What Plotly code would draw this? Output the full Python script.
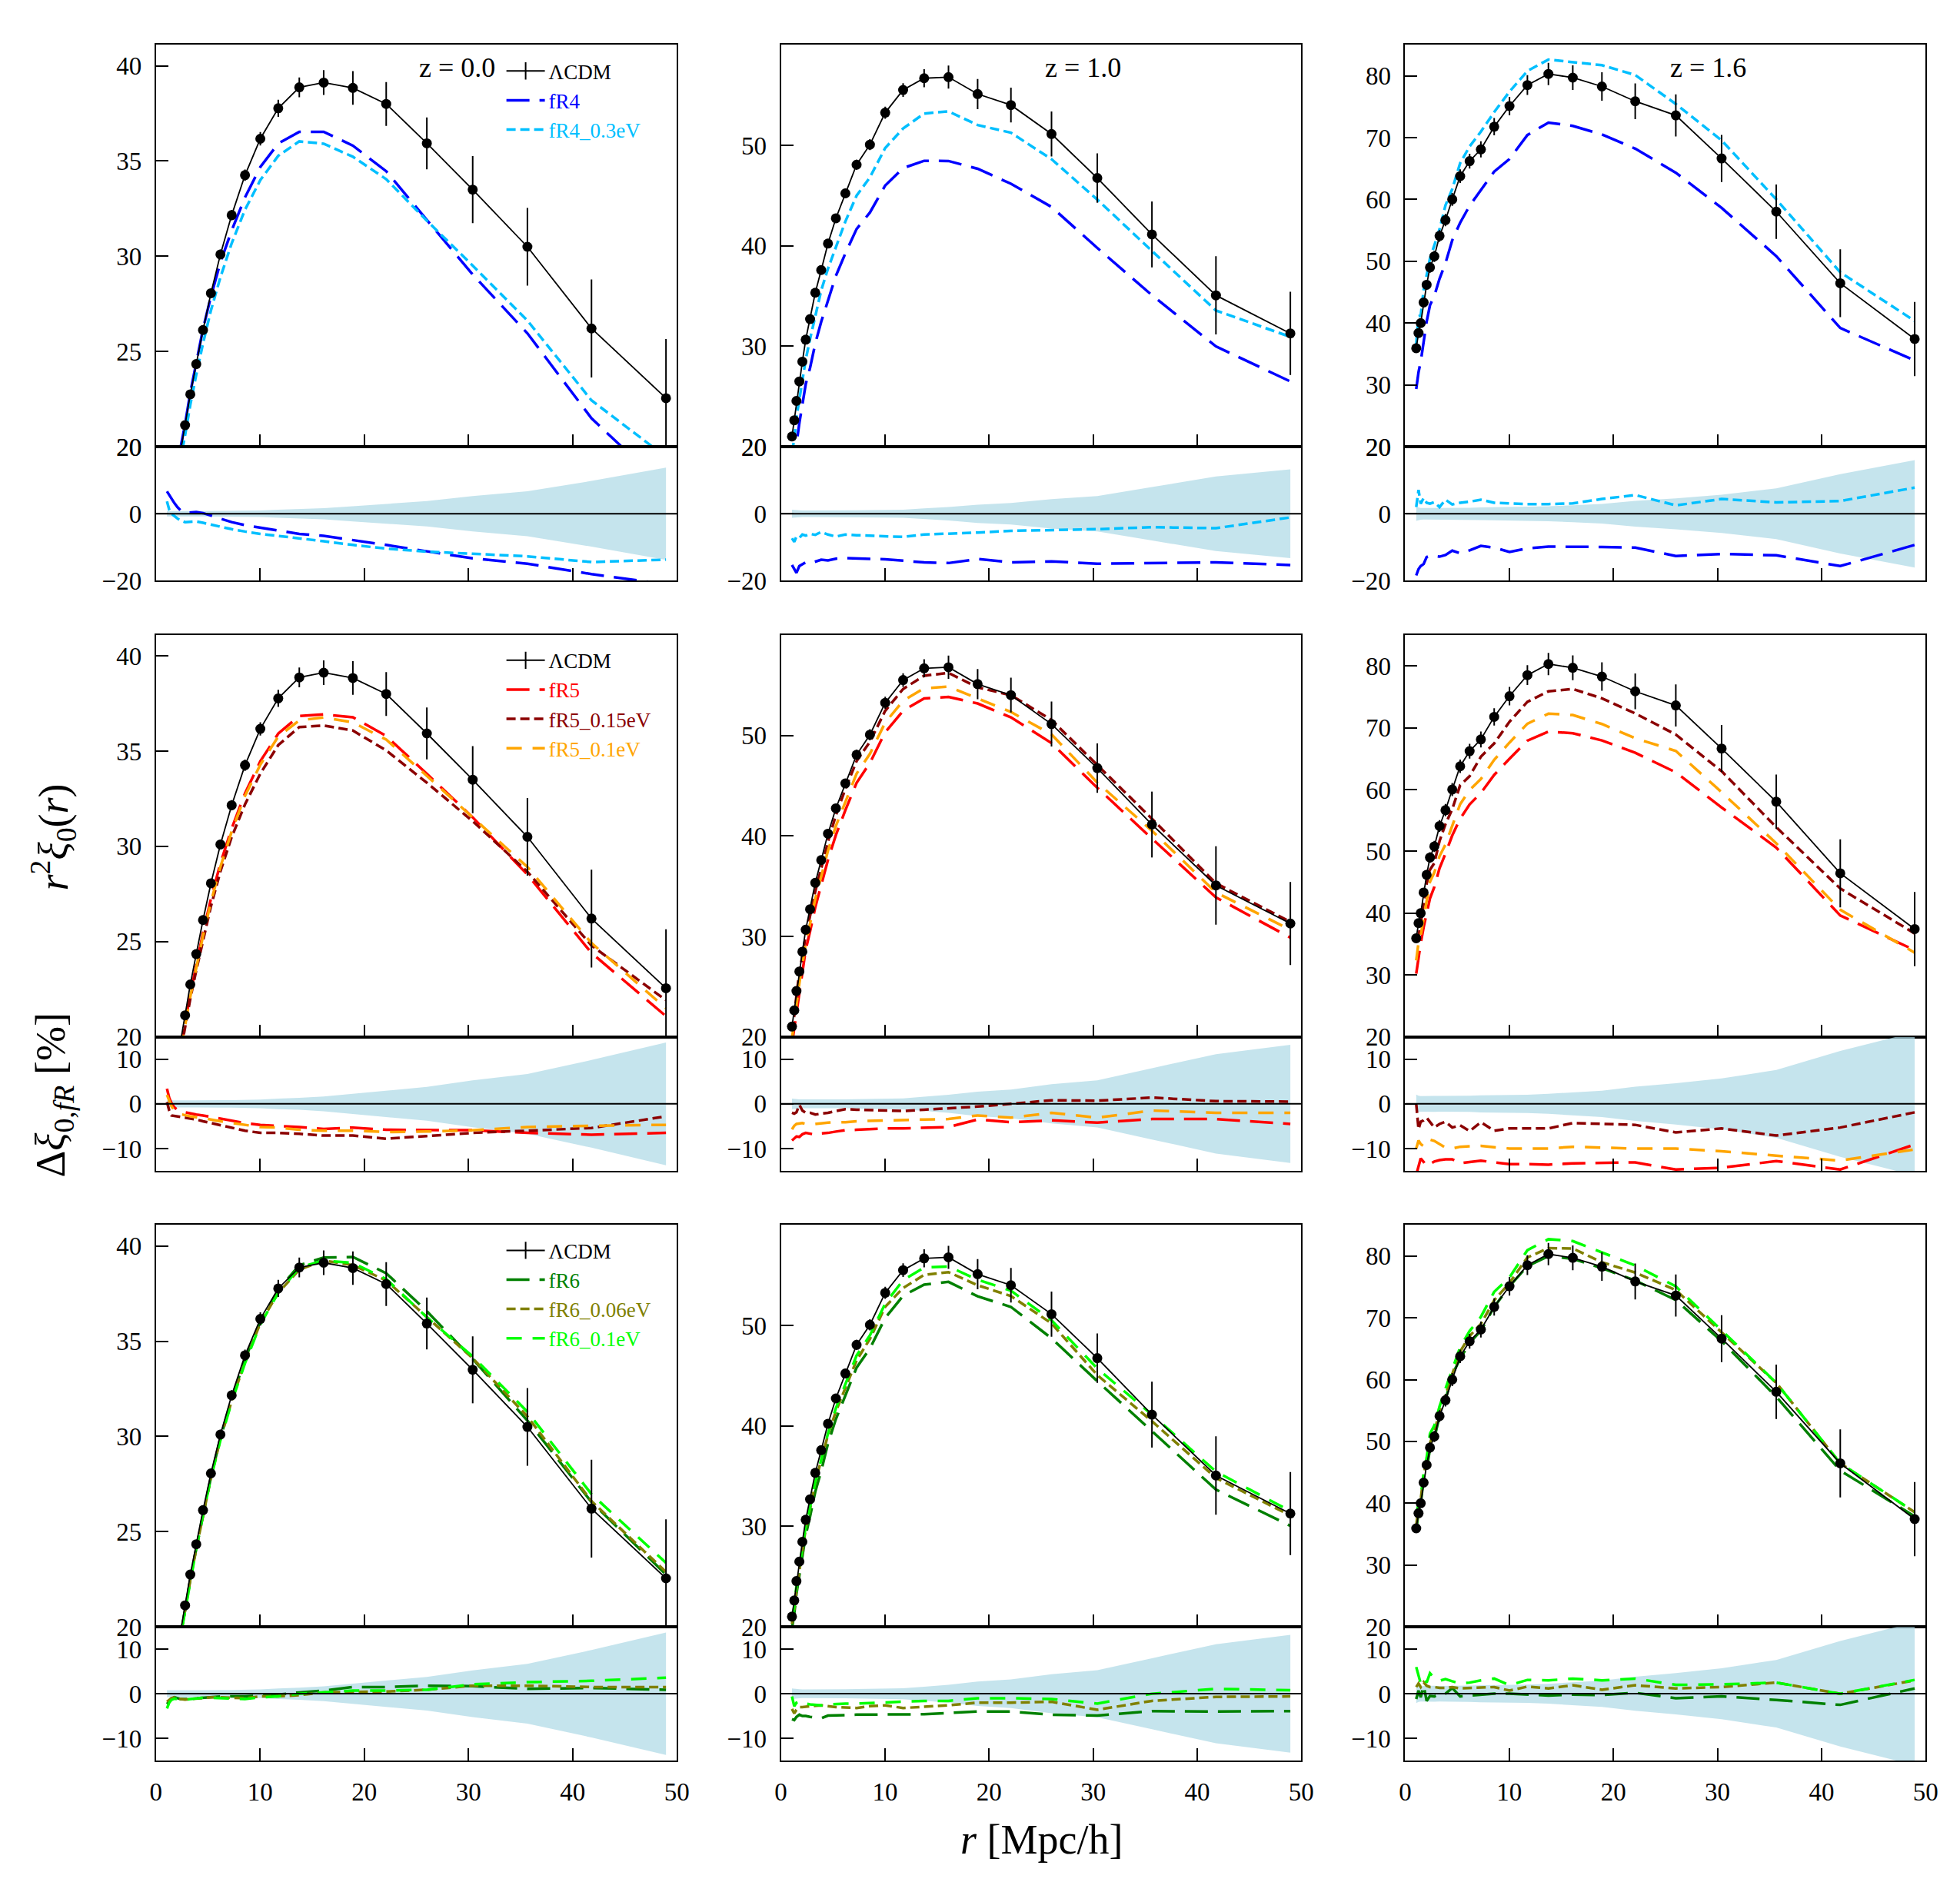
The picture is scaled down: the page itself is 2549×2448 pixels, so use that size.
import plotly.graph_objects as go

W, H = 2549, 2448
FONT = "Liberation Serif"

# ---------------- data ----------------
r_pts = [1.06, 1.28, 1.49, 1.77, 2.06, 2.38, 2.80, 3.30, 3.87, 4.52, 5.28, 6.19, 7.27,
         8.55, 10.02, 11.74, 13.76, 16.1, 18.9, 22.1, 26.0, 30.4, 35.65, 41.8, 48.95]

z_labels = ["z = 0.0", "z = 1.0", "z = 1.6"]

lcdm_z00 = [13.6, 14.6, 15.8, 17.1, 18.4, 19.8, 21.13, 22.75, 24.34, 26.13, 28.06, 30.10, 32.16,
            34.26, 36.17, 37.77, 38.87, 39.12, 38.84, 38.00, 35.93, 33.50, 30.50, 26.21, 22.55]
err_z00 = [0.11, 0.12, 0.13, 0.14, 0.15, 0.16, 0.17, 0.18, 0.20, 0.21, 0.23, 0.25, 0.27,
           0.30, 0.35, 0.45, 0.52, 0.65, 0.88, 1.15, 1.36, 1.76, 2.04, 2.57, 3.10]

lcdm_z10 = [21.02, 22.63, 24.56, 26.50, 28.47, 30.66, 32.70, 35.33, 37.59, 40.22, 42.74, 45.22, 48.07,
            50.07, 53.25, 55.51, 56.68, 56.79, 55.11, 54.01, 51.13, 46.75, 41.13, 35.07, 31.28]
err_z10 = [0.25, 0.25, 0.26, 0.27, 0.28, 0.30, 0.32, 0.35, 0.37, 0.40, 0.42, 0.45, 0.50,
           0.55, 0.60, 0.68, 0.90, 1.15, 1.50, 1.73, 2.24, 2.46, 3.28, 3.90, 4.14]

lcdm_z16 = [35.94, 38.39, 40.00, 43.34, 46.20, 49.00, 50.80, 54.10, 56.66, 60.00, 63.76, 66.20, 68.10,
            71.76, 75.10, 78.50, 80.30, 79.70, 78.27, 75.88, 73.60, 66.63, 58.03, 46.45, 37.43]
err_z16 = [0.75, 0.70, 0.70, 0.75, 0.80, 0.85, 0.90, 0.95, 1.00, 1.05, 1.10, 1.20, 1.30,
           1.40, 1.50, 1.60, 1.80, 2.00, 2.30, 2.90, 3.40, 3.80, 4.40, 5.50, 6.00]

# relative differences in % (model / LCDM - 1)
res_fR4_z00 = [6.7, 5.5, 4.5, 3.2, 2.0, 1.0, 0.3, 0.4, 0.5, 0.2, -0.6, -1.4, -2.5, -3.4, -4.1, -4.9,
               -6.0, -6.6, -7.8, -9.3, -11.2, -13.3, -14.9, -18.0, -21.0]
res_fR4_03_z00 = [3.7, 1.2, 0.0, -0.8, -1.4, -2.0, -2.5, -2.4, -2.3, -2.7, -3.2, -4.0, -4.6, -5.3, -6.0,
                  -6.6, -7.3, -8.2, -9.3, -10.4, -11.3, -11.9, -12.7, -14.4, -13.7]
res_fR4_z10 = [-15.3, -16.5, -17.6, -15.6, -15.0, -14.5, -14.8, -14.3, -13.7, -13.9, -13.4, -13.2, -13.3,
               -13.5, -13.6, -14.0, -14.5, -14.7, -13.5, -14.5, -14.2, -14.9, -14.7, -14.5, -15.3]
res_fR4_03_z10 = [-7.3, -8.4, -6.8, -7.2, -6.2, -6.5, -6.0, -6.3, -5.4, -6.2, -6.8, -6.2, -6.4, -6.5,
                  -6.6, -6.9, -6.2, -6.0, -5.6, -5.1, -4.9, -4.6, -4.0, -4.3, -1.1]
res_fR4_z16 = [-18.4, -16.5, -15.6, -15.0, -12.9, -12.5, -12.6, -12.8, -12.3, -11.0, -11.8, -10.9, -9.6,
               -10.1, -11.4, -10.3, -9.8, -9.8, -9.9, -10.1, -12.6, -12.0, -12.4, -15.6, -9.3]
res_fR4_03_z16 = [2.0, 7.1, 3.0, 4.7, 3.3, 3.0, 3.5, 2.0, 4.2, 2.8, 3.3, 3.6, 4.2, 3.3, 3.1, 2.9, 2.9,
                  3.1, 4.4, 5.6, 2.5, 4.4, 3.4, 3.8, 7.8]

res_fR5_z00 = [3.4, 1.3, 0.2, -0.8, -1.3, -1.7, -1.9, -2.2, -2.4, -2.6, -2.9, -3.3, -3.8, -4.3, -4.7,
               -4.9, -5.2, -5.6, -5.3, -5.8, -5.9, -5.9, -6.5, -6.9, -6.5]
res_fR5_015_z00 = [0.4, -1.5, -2.6, -2.7, -2.8, -2.9, -3.0, -3.3, -3.5, -3.9, -4.3, -4.7, -5.2, -6.0,
                   -6.5, -6.5, -6.7, -7.1, -7.1, -7.8, -7.2, -6.5, -6.0, -5.4, -2.8]
res_fR5_01_z00 = [2.0, 0.5, -0.5, -1.5, -2.0, -2.3, -2.6, -2.8, -3.0, -3.2, -3.5, -3.9, -4.3, -4.7, -5.2,
                  -5.3, -5.8, -6.0, -6.0, -6.3, -6.2, -5.9, -5.2, -4.9, -4.7]
res_fR5_z10 = [-8.2, -7.8, -7.3, -7.4, -6.8, -6.5, -6.7, -6.9, -6.6, -6.5, -6.2, -5.9, -5.8, -5.6, -5.5,
               -5.5, -5.3, -5.2, -3.5, -4.1, -3.7, -4.2, -3.4, -3.4, -4.5]
res_fR5_015_z10 = [-2.0, -2.2, -1.9, -0.2, -1.5, -2.0, -2.0, -2.4, -2.2, -2.0, -1.6, -1.2, -1.3, -1.4,
                   -1.5, -1.6, -1.3, -1.0, -0.6, 0.0, 0.8, 0.7, 1.4, 0.6, 0.5]
res_fR5_01_z10 = [-5.7, -4.9, -4.5, -4.4, -4.3, -4.5, -4.4, -4.5, -4.3, -4.2, -4.1, -4.1, -3.9, -3.8,
                  -3.7, -3.7, -3.5, -3.4, -2.6, -3.1, -2.0, -3.1, -1.5, -2.0, -2.0]
res_fR5_z16 = [-15.9, -14.0, -12.2, -13.0, -13.9, -13.5, -12.9, -12.6, -12.4, -12.4, -13.3, -13.0, -12.7,
               -13.1, -13.5, -13.5, -13.6, -13.3, -13.2, -13.1, -14.7, -14.3, -12.8, -14.7, -9.1]
res_fR5_015_z16 = [0.0, -5.7, -4.0, -3.7, -3.1, -4.0, -5.3, -4.5, -4.0, -5.3, -4.8, -6.1, -4.1, -6.0,
                   -5.5, -5.5, -5.5, -4.3, -4.5, -4.7, -6.4, -5.5, -7.1, -5.3, -1.9]
res_fR5_01_z16 = [-10.0, -8.2, -9.0, -9.5, -8.6, -8.0, -8.3, -9.0, -9.8, -10.0, -9.6, -9.5, -9.4, -9.7,
                  -10.0, -10.0, -10.0, -9.6, -9.8, -10.0, -10.0, -10.6, -11.6, -12.7, -10.2]

res_fR6_z00 = [-2.3, -1.8, -1.2, -0.8, -1.0, -1.2, -1.2, -1.1, -1.0, -0.9, -0.7, -0.6, -0.6, -0.6, -0.4,
               -0.2, 0.3, 0.7, 1.5, 1.5, 1.8, 1.7, 1.1, 1.3, 0.9]
res_fR6_006_z00 = [-1.8, -1.4, -1.0, -0.8, -1.0, -1.2, -1.3, -1.2, -1.0, -0.9, -0.8, -0.8, -0.9, -1.0,
                   -0.6, -0.6, -0.3, 0.3, 0.4, 0.5, 0.9, 1.8, 1.8, 1.5, 1.5]
res_fR6_01_z00 = [-3.3, -2.0, -1.4, -1.1, -1.2, -1.3, -1.3, -1.2, -1.0, -0.9, -0.9, -1.0, -1.1, -1.2,
                  -0.8, -0.6, 0.0, 0.3, 0.7, 0.7, 0.9, 2.1, 2.6, 2.9, 3.6]
res_fR6_z10 = [-5.7, -5.9, -5.2, -4.7, -5.0, -5.0, -5.2, -5.3, -5.5, -4.9, -4.8, -4.8, -4.7, -4.7, -4.7,
               -4.6, -4.6, -4.3, -4.0, -4.0, -4.7, -4.9, -3.9, -4.0, -3.9]
res_fR6_006_z10 = [-3.4, -4.4, -3.6, -3.0, -3.0, -2.9, -2.8, -2.7, -2.6, -2.8, -3.0, -3.1, -3.2, -2.8,
                   -2.6, -3.2, -2.9, -2.6, -2.0, -2.0, -1.8, -3.6, -1.6, -0.7, -0.6]
res_fR6_01_z10 = [-0.6, -2.8, -2.0, -1.6, -1.8, -2.2, -2.4, -2.5, -2.6, -2.4, -2.3, -2.2, -2.2, -2.1,
                  -2.0, -1.8, -1.6, -1.6, -1.0, -1.0, -1.2, -2.2, 0.0, 1.1, 0.8]
res_fR6_z16 = [-1.2, 0.7, -0.8, 1.9, -1.6, -0.5, -0.6, 0.0, 0.0, 1.3, -0.6, -0.4, -0.3, 0.0, 0.0, -0.2,
               -0.4, -0.2, -0.3, 0.2, -1.0, -0.6, -1.4, -2.5, 1.2]
res_fR6_006_z16 = [1.5, 2.3, 1.5, 2.6, 1.8, 1.5, 1.5, 1.3, 1.3, 1.5, 1.2, 1.3, 1.3, 1.5, 0.7, 1.6, 1.2,
                   1.9, 0.9, 1.9, 1.2, 1.5, 2.5, 0.0, 3.0]
res_fR6_01_z16 = [6.0, 4.0, 2.3, 3.5, 2.5, 4.6, 3.5, 2.9, 3.3, 2.8, 2.3, 2.5, 3.0, 3.4, 1.9, 3.1, 3.0,
                  3.4, 3.0, 3.4, 2.0, 2.1, 2.5, 0.0, 3.1]

main_yticks = [[20, 25, 30, 35, 40], [20, 30, 40, 50], [20, 30, 40, 50, 60, 70, 80]]
main_yrange = [[20, 41.1], [20, 60], [20, 85]]
res_yticks = [[-20, 0, 20], [-10, 0, 10], [-10, 0, 10]]
res_yrange = [[-20, 20], [-15, 15], [-15, 15]]
x_ticks = [0, 10, 20, 30, 40, 50]

# ---------------- styling ----------------
lcdm_all = [lcdm_z00, lcdm_z10, lcdm_z16]
err_all = [err_z00, err_z10, err_z16]

LONG = "30px,13px"
SHORT = "12px,6px"
MED = "20px,14px"
models = [
    [("fR4", "#0000ff", LONG, [res_fR4_z00, res_fR4_z10, res_fR4_z16]),
     ("fR4_0.3eV", "#00bfff", SHORT, [res_fR4_03_z00, res_fR4_03_z10, res_fR4_03_z16])],
    [("fR5", "#ff0000", LONG, [res_fR5_z00, res_fR5_z10, res_fR5_z16]),
     ("fR5_0.15eV", "#8b0000", SHORT, [res_fR5_015_z00, res_fR5_015_z10, res_fR5_015_z16]),
     ("fR5_0.1eV", "#ffa500", MED, [res_fR5_01_z00, res_fR5_01_z10, res_fR5_01_z16])],
    [("fR6", "#008000", LONG, [res_fR6_z00, res_fR6_z10, res_fR6_z16]),
     ("fR6_0.06eV", "#808000", SHORT, [res_fR6_006_z00, res_fR6_006_z10, res_fR6_006_z16]),
     ("fR6_0.1eV", "#00ff00", MED, [res_fR6_01_z00, res_fR6_01_z10, res_fR6_01_z16])],
]

col_px = [(196.7, 881.0), (1017.6, 1701.0), (1837.5, 2521.0)]
row_px = [(42.0, 572.5, 749.5), (821.0, 1351.5, 1528.5), (1600.0, 2130.5, 2307.0)]


def px_x(p):
    return p / W


def px_y(p):
    return 1 - p / H


def ax_name(kind, k):
    return kind if k == 1 else f"{kind}{k}"


fig = go.Figure()
layout = {}
shapes = []
annotations = []
legend_names = ["legend", "legend2", "legend3"]

tickfont = dict(family=FONT, size=33, color="black")


def axis_base():
    return dict(showline=True, linecolor="black", linewidth=2, mirror=True,
                ticks="inside", ticklen=16, tickwidth=1.5, tickcolor="black",
                showgrid=False, zeroline=False, tickfont=tickfont, ticklabelstandoff=10)


for i in range(3):
    top, mid, bot = row_px[i]
    for j in range(3):
        x0, x1 = col_px[j]
        km = 2 * (3 * i + j) + 1
        kr = km + 1
        xm, ym = ax_name("x", km), ax_name("y", km)
        xr, yr = ax_name("x", kr), ax_name("y", kr)

        xa = axis_base()
        xa.update(domain=[px_x(x0), px_x(x1)], range=[0, 50], tickvals=x_ticks,
                  anchor=ym, showticklabels=False)
        layout[ax_name("xaxis", km)] = xa
        ya = axis_base()
        ya.update(domain=[px_y(mid), px_y(top)], range=main_yrange[j], tickvals=main_yticks[j],
                  anchor=xm)
        layout[ax_name("yaxis", km)] = ya
        xa2 = axis_base()
        xa2.update(domain=[px_x(x0), px_x(x1)], range=[0, 50], tickvals=x_ticks,
                   anchor=yr, showticklabels=(i == 2))
        layout[ax_name("xaxis", kr)] = xa2
        ya2 = axis_base()
        ya2.update(domain=[px_y(bot), px_y(mid)], range=res_yrange[i], tickvals=res_yticks[i],
                   anchor=xr)
        layout[ax_name("yaxis", kr)] = ya2

        lc = lcdm_all[j]
        er = err_all[j]
        leg = legend_names[i]

        if j == 0:
            fig.add_trace(go.Scatter(
                x=[None], y=[None], mode="lines+markers", name="ΛCDM",
                line=dict(color="black", width=2),
                marker=dict(symbol="line-ns-open", size=16, color="black",
                            line=dict(color="black", width=2)),
                xaxis=xm, yaxis=ym, legend=leg, showlegend=True))

        band = [e / v * 100 for e, v in zip(er, lc)]
        fig.add_trace(go.Scatter(x=r_pts, y=[-b for b in band], mode="lines",
                                 line=dict(width=0, color="rgba(0,0,0,0)"),
                                 xaxis=xr, yaxis=yr, showlegend=False, hoverinfo="skip"))
        fig.add_trace(go.Scatter(x=r_pts, y=band, mode="lines", fill="tonexty",
                                 fillcolor="rgba(173,216,230,0.7)",
                                 line=dict(width=0, color="rgba(0,0,0,0)"),
                                 xaxis=xr, yaxis=yr, showlegend=False, hoverinfo="skip"))

        for (name, color, dash, reslists) in models[i]:
            res = reslists[j]
            yv = [v * (1 + p / 100.0) for v, p in zip(lc, res)]
            fig.add_trace(go.Scatter(
                x=r_pts, y=yv, mode="lines",
                name=f'<span style="color:{color}">{name}</span>',
                line=dict(color=color, width=3.5, dash=dash),
                xaxis=xm, yaxis=ym, legend=leg, showlegend=(j == 0)))
            fig.add_trace(go.Scatter(
                x=r_pts, y=res, mode="lines",
                line=dict(color=color, width=3.5, dash=dash),
                xaxis=xr, yaxis=yr, showlegend=False))

        fig.add_trace(go.Scatter(
            x=r_pts, y=lc, mode="lines+markers", name="ΛCDM",
            line=dict(color="black", width=1.8),
            marker=dict(color="black", size=13),
            error_y=dict(type="data", array=er, width=0, thickness=2, color="black"),
            xaxis=xm, yaxis=ym, showlegend=False))

        shapes.append(dict(type="line", xref=f"{xr} domain", x0=0, x1=1, yref=yr, y0=0, y1=0,
                           line=dict(color="black", width=2), layer="above"))

        if i == 0:
            zx = [592, 1414, 2235][j]
            annotations.append(dict(text=z_labels[j], x=px_x(zx), y=px_y(72), xref="paper",
                                    yref="paper", showarrow=False, xanchor="center",
                                    yanchor="middle", font=dict(family=FONT, size=36, color="black")))

    layout[legend_names[i]] = dict(
        x=px_x(652), y=px_y([52, 830, 1609][i]), xanchor="left", yanchor="top",
        bgcolor="rgba(0,0,0,0)", borderwidth=0, itemwidth=50, tracegroupgap=0,
        font=dict(family=FONT, size=27, color="black"), traceorder="normal")

annotations.append(dict(text="<i>r</i><sup>2</sup><i>ξ</i><sub>0</sub>(<i>r</i>)",
                        x=px_x(62), y=px_y(1088), xref="paper", yref="paper", showarrow=False,
                        textangle=-90, xanchor="center", yanchor="middle",
                        font=dict(family=FONT, size=54, color="black")))
annotations.append(dict(text="Δ<i>ξ</i><sub>0,<i>fR</i></sub> [%]",
                        x=px_x(62), y=px_y(1428), xref="paper", yref="paper", showarrow=False,
                        textangle=-90, xanchor="center", yanchor="middle",
                        font=dict(family=FONT, size=54, color="black")))
annotations.append(dict(text="<i>r</i> [Mpc/h]",
                        x=px_x(1360), y=px_y(2411), xref="paper", yref="paper", showarrow=False,
                        xanchor="center", yanchor="middle",
                        font=dict(family=FONT, size=54, color="black")))

fig.update_layout(**layout)
fig.update_layout(width=W, height=H, margin=dict(l=0, r=0, t=0, b=0),
                  paper_bgcolor="white", plot_bgcolor="white", showlegend=True,
                  shapes=shapes, annotations=annotations)

fig.write_html(
    "out.html",
    post_script=("document.body.style.margin='0px';"
                 "document.documentElement.style.overflow='hidden';"
                 "document.body.style.overflow='hidden';"),
)
